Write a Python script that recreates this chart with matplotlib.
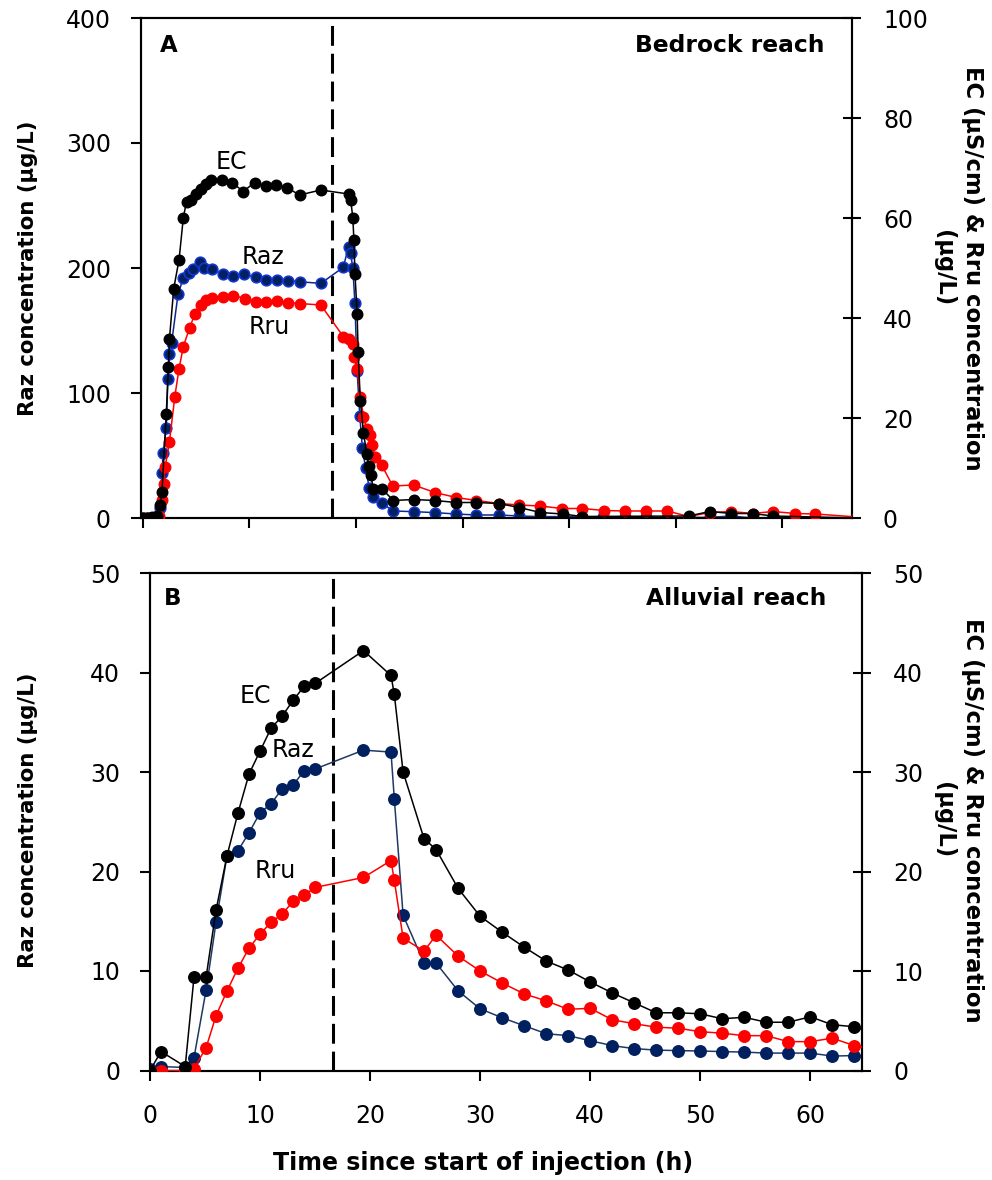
import matplotlib
matplotlib.use("Agg")
import matplotlib.pyplot as plt

# ---- Panel A: bedrock reach ----
t_ec_a = [0, 0.4, 0.9, 1.3, 1.6, 1.8, 2.2, 2.4, 2.5, 2.9, 3.4, 3.8, 4.1, 4.5, 5.0,
          5.5, 5.9, 6.4, 7.4, 8.4, 9.4, 10.5, 11.6, 12.5, 13.5, 14.7, 16.7, 19.3, 19.5, 19.7,
          19.8, 19.9, 20.1, 20.2, 20.4, 20.7, 21.0, 21.2, 21.4, 21.6, 22.4, 23.5, 25.4, 27.4, 29.4,
          31.3, 33.4, 35.3, 37.3, 39.4, 41.2, 51.2, 53.2, 55.2, 57.2, 59.1, 67]
ec_a = [0, 0, 0.2, 0.5, 2.6, 5.3, 20.9, 30.3, 35.9, 45.9, 51.7, 60.1, 63.3, 63.7, 64.9,
        65.9, 66.8, 67.6, 67.6, 67.1, 65.3, 67.1, 66.4, 66.6, 66.1, 64.6, 65.6, 64.8, 63.6, 60.1,
        55.6, 48.9, 40.9, 33.3, 23.5, 17.1, 12.9, 10.4, 8.6, 5.9, 5.9, 3.5, 3.7, 3.5, 3.1,
        3.1, 2.9, 2.1, 1.1, 0.8, 0.3, 0.4, 1.3, 0.9, 0.9, 0.4, 0]

t_raz_a = [0, 0.4, 0.9, 1.3, 1.6, 1.8, 1.9, 2.2, 2.35, 2.5, 2.7, 3.3, 3.8, 4.3, 4.75,
           5.4, 5.75, 6.5, 7.5, 8.5, 9.5, 10.6, 11.6, 12.6, 13.6, 14.7, 16.7, 18.8, 19.3, 19.5,
           19.7, 19.9, 20.1, 20.35, 20.6, 20.9, 21.25, 21.6, 22.4, 23.45, 25.4, 27.4, 29.4, 31.3, 33.4,
           35.3, 37.3, 39.4, 41.2, 43.2, 45.2, 47.2, 49.2, 51.2, 53.2, 55.2, 57.2, 59.1, 67]
raz_a = [0, 0, 0, 1, 8, 35.7, 51.7, 71.7, 111, 131, 140, 179, 192, 196, 199,
         205, 200, 199, 195, 193.6, 195, 192.5, 190.4, 190.4, 190, 189, 187.7, 200.5, 217, 211.7,
         199.7, 171.7, 118, 82, 55.7, 39.7, 23.7, 17, 12.3, 5.6, 5.1, 4.3, 3.2, 2.4, 2.4,
         1.6, 1.1, 1.1, 1, 1, 1, 0.5, 0, 0.5, 0.5, 1.6, 0, 0.5, 0]

t_rru_a = [0, 0.5, 1.0, 1.5, 1.8, 1.95, 2.1, 2.5, 3.0, 3.4, 3.8, 4.4, 4.9, 5.5, 5.9,
           6.5, 7.5, 8.5, 9.6, 10.6, 11.6, 12.6, 13.6, 14.7, 16.7, 18.8, 19.3, 19.7, 19.8, 20.1,
           20.4, 20.7, 21.0, 21.3, 21.5, 21.8, 22.4, 23.45, 25.4, 27.4, 29.4, 31.3, 33.4, 35.3, 37.3,
           39.3, 41.2, 43.3, 45.2, 47.2, 49.2, 51.2, 53.2, 55.2, 57.2, 59.1, 61.2, 63.1, 67]
rru_a = [0, 0, 0, 0.5, 3.6, 6.9, 10.3, 15.3, 24.3, 29.9, 34.3, 38.1, 40.9, 42.6, 43.7,
         44.1, 44.3, 44.5, 43.9, 43.3, 43.3, 43.5, 43.1, 42.9, 42.6, 36.3, 35.9, 34.9, 32.3, 29.9,
         24.3, 20.3, 17.9, 16.6, 14.6, 12.3, 10.6, 6.4, 6.6, 5.1, 4.1, 3.5, 2.9, 2.6, 2.4,
         1.9, 1.9, 1.5, 1.4, 1.4, 1.4, 0.3, 1.1, 1.3, 0.9, 1.3, 0.9, 0.8, 0.2]

# ---- Panel B: alluvial reach ----
t_b = [0, 1, 3.2, 4.0, 5.1, 6, 7, 8, 9, 10, 11, 12, 13, 14, 15, 19.4, 21.9, 22.2, 23,
       24.9, 26, 28, 30, 32, 34, 36, 38, 40, 42, 44, 46, 48, 50, 52, 54, 56, 58, 60, 62, 64, 66]
ec_b = [0, 1.9, 0.4, 9.4, 9.4, 16.1, 21.6, 25.9, 29.8, 32.1, 34.4, 35.6, 37.2, 38.6, 38.9,
        42.2, 39.7, 37.8, 30.0, 23.3, 22.2, 18.3, 15.5, 13.9, 12.4, 11.0, 10.1, 8.9, 7.8, 6.8,
        5.8, 5.8, 5.7, 5.2, 5.35, 4.85, 4.85, 5.4, 4.6, 4.4, 3.6]
raz_b = [0.2, 0.4, 0.3, 1.3, 8.1, 14.9, 21.6, 22.1, 23.9, 25.9, 26.8, 28.3, 28.7, 30.1, 30.3,
         32.2, 32.0, 27.3, 15.6, 10.8, 10.8, 8.0, 6.2, 5.3, 4.5, 3.7, 3.5, 3.0, 2.5, 2.2,
         2.05, 2.0, 1.96, 1.9, 1.85, 1.75, 1.75, 1.75, 1.45, 1.5, 1.5]
rru_b = [0, 0, 0, 0.2, 2.3, 5.5, 8.0, 10.3, 12.3, 13.7, 14.9, 15.7, 17.0, 17.6, 18.4,
         19.4, 21.1, 19.1, 13.3, 12.0, 13.6, 11.5, 10.0, 8.8, 7.7, 7.0, 6.15, 6.25, 5.1, 4.7,
         4.35, 4.25, 3.9, 3.75, 3.5, 3.5, 2.9, 2.9, 3.25, 2.5, 2.1]

x_ticks = [0, 10, 20, 30, 40, 50, 60]
inj_end_a = 17.7
inj_end_b = 16.6

plt.rcParams['font.family'] = 'DejaVu Sans'

W, H = 992, 1180
fig = plt.figure(figsize=(W / 100, H / 100), dpi=100)

def px_axes(l, r, t, b):
    return fig.add_axes([l / W, 1 - b / H, (r - l) / W, (b - t) / H])

axA = px_axes(140.7, 851.7, 18, 518)
axB = px_axes(150, 862, 573, 1070.5)

lw = 1.1

def style(ax, ax2, ylim_l, yt_l, ylim_r, yt_r, xlim, show_x):
    ax.set_xlim(*xlim)
    ax.set_ylim(*ylim_l)
    ax.set_yticks(yt_l)
    ax2.set_ylim(*ylim_r)
    ax2.set_yticks(yt_r)
    ax.set_xticks(x_ticks)
    for a in (ax, ax2):
        for s in a.spines.values():
            s.set_linewidth(1.5)
    ax.tick_params(axis='y', direction='out', length=7, width=1.5, pad=14.5, labelsize=17)
    ax2.tick_params(axis='y', direction='inout', length=13, width=1.5, pad=16, labelsize=17)
    ax.tick_params(axis='x', direction='out', length=7, width=1.5, pad=17, labelsize=17,
                   labelbottom=show_x)

# Panel A
msA = 7.6
axA2 = axA.twinx()
axA.plot(t_raz_a, raz_a, '-o', color='#0A2A8A', lw=lw, ms=msA,
         mfc='#002060', mec='#1535D0', mew=1.2, zorder=3)
axA2.plot(t_rru_a, rru_a, '-o', color='#FF0000', lw=lw, ms=msA, mec='#FF0000', zorder=3)
axA2.plot(t_ec_a, ec_a, '-o', color='black', lw=lw, ms=msA, zorder=4)
axA.axvline(inj_end_a, color='black', lw=2.2, linestyle=(0, (6.5, 2.6)))
style(axA, axA2, (0, 400), [0, 100, 200, 300, 400], (0, 100), [0, 20, 40, 60, 80, 100],
      (-0.2, 66.5), False)
axA.text(8.35, 285, 'EC', fontsize=17, ha='center', va='center')
axA.text(11.3, 209, 'Raz', fontsize=17, ha='center', va='center')
axA.text(11.9, 153, 'Rru', fontsize=17, ha='center', va='center')
axA.text(0.027, 0.968, 'A', transform=axA.transAxes, fontsize=16.5, fontweight='bold',
         ha='left', va='top')
axA.text(0.962, 0.968, 'Bedrock reach', transform=axA.transAxes, fontsize=16.8,
         fontweight='bold', ha='right', va='top')

# Panel B
msB = 8.3
axB2 = axB.twinx()
axB.plot(t_b, raz_b, '-o', color='#203864', lw=lw, ms=msB, mfc='#002060', mec='#002060', zorder=3)
axB2.plot(t_b, rru_b, '-o', color='#FF0000', lw=lw, ms=msB, mec='#FF0000', zorder=3)
axB2.plot(t_b, ec_b, '-o', color='black', lw=lw, ms=msB, zorder=4)
axB.axvline(inj_end_b, color='black', lw=2.2, linestyle=(0, (6.5, 2.6)))
style(axB, axB2, (0, 50), [0, 10, 20, 30, 40, 50], (0, 50), [0, 10, 20, 30, 40, 50],
      (0, 64.7), True)
axB.text(9.6, 37.6, 'EC', fontsize=17, ha='center', va='center')
axB.text(13.0, 32.2, 'Raz', fontsize=17, ha='center', va='center')
axB.text(11.4, 20.1, 'Rru', fontsize=17, ha='center', va='center')
axB.text(0.02, 0.972, 'B', transform=axB.transAxes, fontsize=16.5, fontweight='bold',
         ha='left', va='top')
axB.text(0.95, 0.972, 'Alluvial reach', transform=axB.transAxes, fontsize=16.8,
         fontweight='bold', ha='right', va='top')

# axis labels
lab = dict(fontweight='bold', ha='center', va='center')
right_lab = 'EC (µS/cm) & Rru concentration\n(µg/L)'
for yc in (268, 820):
    fig.text(28 / W, 1 - yc / H, 'Raz concentration (µg/L)', rotation=90, fontsize=15.3, **lab)
    fig.text(958 / W, 1 - yc / H, right_lab, rotation=270, multialignment='center',
             linespacing=1.3, fontsize=16.3, **lab)
fig.text(483.5 / W, 1 - 1163 / H, 'Time since start of injection (h)', fontsize=17, **lab)

fig.savefig('out.png', dpi=100)
